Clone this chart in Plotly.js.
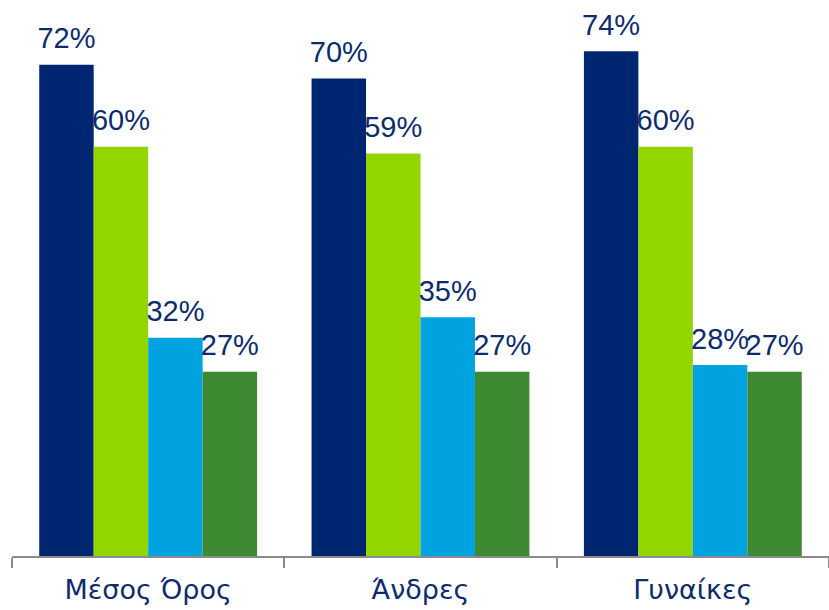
<!DOCTYPE html>
<html><head><meta charset="utf-8">
<script src="https://cdn.plot.ly/plotly-3.0.1.min.js"></script>
<style>html,body{margin:0;padding:0;background:#fff;}#chart{width:829px;height:610px;}</style>
</head><body><div id="chart"></div>
<script>
const categories = ["Μέσος Όρος", "Άνδρες", "Γυναίκες"];
const series1 = [72, 70, 74];
const series2 = [60, 59, 60];
const series3 = [32, 35, 28];
const series4 = [27, 27, 27];
const colors = ["#002672", "#93d500", "#00a3e0", "#3d8a32"];
const allSeries = [series1, series2, series3, series4];

const textColor = "#0d2c6c";
const traces = [];
allSeries.forEach((vals, i) => {
  traces.push({
    type: "bar",
    x: categories,
    y: vals,
    offsetgroup: "g" + i,
    marker: {color: colors[i]},
    hoverinfo: "none"
  });
});
allSeries.forEach((vals, i) => {
  traces.push({
    type: "scatter",
    mode: "markers+text",
    x: categories,
    y: vals,
    offsetgroup: "g" + i,
    marker: {size: 13, opacity: 0, color: colors[i]},
    text: vals.map(v => v + "%"),
    textposition: "top center",
    textfont: {family: "Liberation Sans, Arial, sans-serif", size: 29, color: textColor},
    cliponaxis: false,
    hoverinfo: "none"
  });
});

const layout = {
  width: 829, height: 610,
  margin: {l: 12, r: 0, t: 0, b: 54},
  barmode: "group",
  bargap: 0.2,
  bargroupgap: 0,
  scattermode: "group",
  scattergap: 0.2,
  showlegend: false,
  paper_bgcolor: "#ffffff",
  plot_bgcolor: "#ffffff",
  xaxis: {
    showline: true, linecolor: "#8c8c8c", linewidth: 2,
    ticks: "outside", tickson: "boundaries", ticklen: 10, tickwidth: 2, tickcolor: "#8c8c8c",
    ticklabelstandoff: 9,
    tickfont: {family: "DejaVu Sans, Verdana, sans-serif", size: 27, color: textColor},
    showgrid: false, zeroline: false, fixedrange: true
  },
  yaxis: {
    range: [0, 81.5], visible: false, showgrid: false, zeroline: false, fixedrange: true
  }
};

Plotly.newPlot("chart", traces, layout, {displayModeBar: false, staticPlot: true});
</script></body></html>
